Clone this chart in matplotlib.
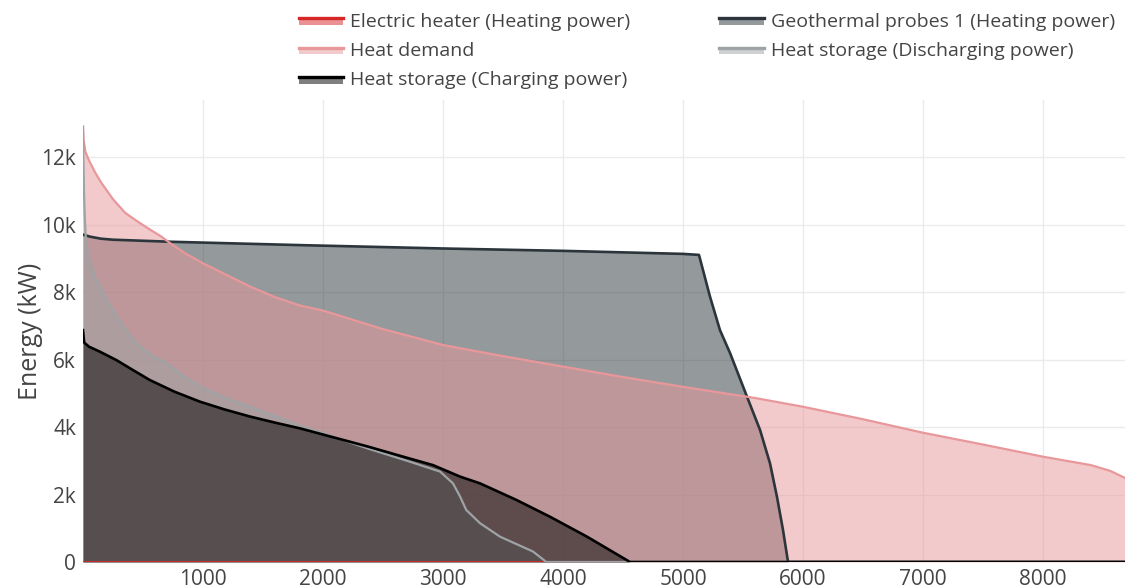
import matplotlib
matplotlib.use("Agg")
import matplotlib.pyplot as plt
from matplotlib.legend_handler import HandlerBase
from matplotlib.patches import Patch, Rectangle
from matplotlib.lines import Line2D

plt.rcParams['font.family'] = ['Open Sans', 'DejaVu Sans']

# duration curves (hours sorted by load), kW
heater_x = [0, 8760]
heater_y = [0, 0]

geo_x = [0, 60, 150, 250, 725, 1808, 3000, 4000, 5000, 5133, 5225, 5308, 5392, 5533,
         5642, 5725, 5783, 5833, 5875, 8760]
geo_y = [9700, 9640, 9580, 9550, 9490, 9390, 9290, 9220, 9130, 9100, 7860, 6870, 6190,
         4900, 3910, 2920, 1930, 950, 0, 0]

demand_x = [0, 5, 20, 50, 100, 150, 250, 350, 450, 558, 650, 725, 850, 1000, 1200,
            1400, 1600, 1808, 2000, 2500, 3000, 3500, 4000, 4500, 5000, 5600, 6000,
            6500, 7000, 7500, 8000, 8400, 8560, 8683]
demand_y = [12900, 12500, 12150, 11900, 11550, 11250, 10750, 10350, 10100, 9850, 9650,
            9450, 9150, 8850, 8500, 8150, 7850, 7600, 7450, 6900, 6430, 6100, 5790,
            5480, 5190, 4860, 4600, 4230, 3830, 3480, 3120, 2870, 2700, 2490]

dis_x = [0, 3, 8, 15, 25, 45, 72, 100, 142, 200, 280, 370, 475, 580, 697, 830, 975,
         1180, 1392, 1600, 1808, 2000, 2375, 2708, 2975, 3083, 3142, 3194, 3308, 3475,
         3750, 3861, 8760]
dis_y = [12900, 12000, 11000, 10200, 9500, 9000, 8750, 8450, 8160, 7750, 7270, 6800,
         6380, 6100, 5890, 5530, 5190, 4870, 4600, 4320, 4040, 3820, 3360, 2990, 2680,
         2330, 1940, 1540, 1150, 750, 310, 0, 0]

chg_x = [0, 10, 50, 142, 280, 420, 558, 760, 975, 1180, 1392, 1600, 1808, 2375, 2708,
         2917, 3142, 3308, 3611, 3892, 4200, 4558, 8760]
chg_y = [6870, 6500, 6380, 6230, 5980, 5680, 5390, 5050, 4750, 4520, 4310, 4130, 3960,
         3420, 3080, 2870, 2530, 2330, 1840, 1340, 750, 0, 0]

yticks = [0, 2000, 4000, 6000, 8000, 10000, 12000]
ytick_labels = ['0', '2k', '4k', '6k', '8k', '10k', '12k']
xticks = [1000, 2000, 3000, 4000, 5000, 6000, 7000, 8000]

series = [
    ('Electric heater (Heating power)', heater_x, heater_y, '#d62728', 2.0),
    ('Geothermal probes 1 (Heating power)', geo_x, geo_y, '#2b353b', 1.9),
    ('Heat demand', demand_x, demand_y, '#e8979a', 1.6),
    ('Heat storage (Discharging power)', dis_x, dis_y, '#9ea3a5', 1.6),
    ('Heat storage (Charging power)', chg_x, chg_y, '#000000', 1.9),
]


class FillLineHandler(HandlerBase):
    # fill block with the trace line across its top
    def create_artists(self, legend, orig_handle, xdescent, ydescent,
                       width, height, fontsize, trans):
        fc = orig_handle.get_facecolor()
        ec = orig_handle.get_edgecolor()
        y0 = height * 0.12 - ydescent
        y1 = height * 0.62 - ydescent
        rect = Rectangle((-xdescent, y0), width, y1 - y0, facecolor=fc,
                         edgecolor='none', transform=trans)
        line = Line2D([-xdescent, -xdescent + width], [y1, y1], color=ec,
                      linewidth=2.4, transform=trans)
        return [rect, line]


fig = plt.figure(figsize=(11.25, 5.88), dpi=100)
ax = fig.add_axes([83 / 1125, 26 / 588, 1 - 83 / 1125, (562 - 100) / 588])

handles = {}
for name, xs, ys, color, lw in series:
    ax.fill_between(xs, ys, 0, color=color, alpha=0.5, linewidth=0)
    ax.plot(xs, ys, color=color, linewidth=lw, solid_joinstyle='round')
    handles[name] = Patch(facecolor=matplotlib.colors.to_rgba(color, 0.5), edgecolor=color)

ax.set_xlim(0, 8683)
ax.set_ylim(0, 13690)
ax.set_xticks(xticks)
ax.set_xticklabels([str(t) for t in xticks])
ax.set_yticks(yticks)
ax.set_yticklabels(ytick_labels)
ax.tick_params(length=0, labelsize=15, labelcolor='#444444', pad=5)
ax.grid(color='#ebebeb', linewidth=1)
ax.set_axisbelow(True)
for s in ax.spines.values():
    s.set_visible(False)
ax.set_ylabel('Energy (kW)', fontsize=18, color='#444444')
ax.yaxis.set_label_coords(-0.038, 0.5)

order = ['Electric heater (Heating power)', 'Heat demand', 'Heat storage (Charging power)',
         'Geothermal probes 1 (Heating power)', 'Heat storage (Discharging power)']
fig.legend([handles[n] for n in order], order, ncol=2, frameon=False,
           loc='upper left', bbox_to_anchor=(289 / 1125, 1 - 3 / 588), fontsize=14,
           labelcolor='#444444', handlelength=2.3, handletextpad=0.36,
           columnspacing=4.55, labelspacing=0.58, borderpad=0,
           handler_map={Patch: FillLineHandler()})

fig.savefig('out.png', dpi=100)
